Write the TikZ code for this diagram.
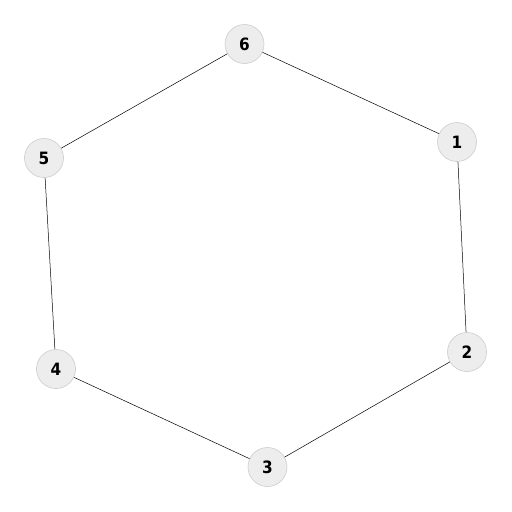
\documentclass[tikz,border=0pt]{standalone}
\usepackage{fontspec}
\setmainfont{DejaVu Sans Condensed}
\begin{document}
\begin{tikzpicture}[x=1pt,y=-1pt,
  vertex/.style={circle,draw=black!20,fill=black!7,line width=0.6pt,minimum size=39pt,inner sep=0pt,font=\bfseries\fontsize{17}{20}\selectfont},
  edge/.style={draw=black,line width=0.5pt}]
\useasboundingbox (0,0) rectangle (512,512);
\node[vertex] (n6) at (244.5,44) {6};
\node[vertex] (n1) at (457,142) {1};
\node[vertex] (n2) at (467,352) {2};
\node[vertex] (n3) at (267.5,467) {3};
\node[vertex] (n4) at (56,369) {4};
\node[vertex] (n5) at (44,158) {5};
\draw[edge] (n6) -- (n1);
\draw[edge] (n1) -- (n2);
\draw[edge] (n2) -- (n3);
\draw[edge] (n3) -- (n4);
\draw[edge] (n4) -- (n5);
\draw[edge] (n5) -- (n6);
\end{tikzpicture}
\end{document}
